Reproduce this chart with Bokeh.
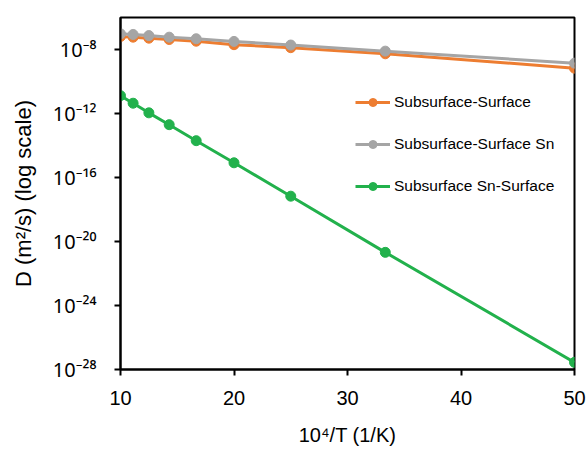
from bokeh.plotting import figure
from bokeh.models import Legend, LegendItem, FixedTicker, CustomJSTickFormatter
from bokeh.embed import file_html
from bokeh.resources import INLINE

# x = 10^4 / T (1/K)
x_vals = [10, 11.11, 12.5, 14.29, 16.67, 20, 25, 33.33, 50]

# D (m^2/s)
d_sub_surf = [6.5e-8, 5.9e-8, 5.1e-8, 4.2e-8, 3.3e-8, 2.0e-8, 1.3e-8, 5.4e-9, 6.8e-10]
d_sub_surf_sn = [9.5e-8, 8.7e-8, 7.4e-8, 5.9e-8, 4.7e-8, 3.2e-8, 1.9e-8, 7.9e-9, 1.4e-9]
d_subsn_surf = [1.3e-11, 4.4e-12, 1.1e-12, 2.0e-13, 2.0e-14, 8.3e-16, 6.8e-18, 2.1e-21, 2.8e-28]

series_names = ["Subsurface-Surface", "Subsurface-Surface Sn", "Subsurface Sn-Surface"]
series_colors = ["#ED7D31", "#A5A5A5", "#22B14C"]

x_ticks = [10, 20, 30, 40, 50]
y_tick_exps = [-8, -12, -16, -20, -24, -28]
y_tick_labels = ["10⁻⁸", "10⁻¹²", "10⁻¹⁶", "10⁻²⁰", "10⁻²⁴", "10⁻²⁸"]

FONT = "Liberation Sans"

p = figure(width=586, height=456, y_axis_type="log",
           x_range=(10, 50), y_range=(1e-28, 1e-6),
           output_backend="svg", toolbar_location=None,
           min_border_left=120, min_border_right=12,
           min_border_top=17, min_border_bottom=87)

p.grid.visible = False
p.outline_line_color = "black"
p.outline_line_width = 2
p.background_fill_color = "white"
p.border_fill_color = "white"

items = []
for ys, name, col in zip([d_sub_surf, d_sub_surf_sn, d_subsn_surf], series_names, series_colors):
    r1 = p.line(x_vals, ys, line_color=col, line_width=3)
    r2 = p.scatter(x_vals, ys, size=10, fill_color=col, line_color=col)
    items.append(LegendItem(label=name, renderers=[r1, r2]))

legend = Legend(items=items, location=(235, 173), border_line_alpha=0,
                background_fill_alpha=0, padding=0, margin=0, spacing=22,
                glyph_width=35, glyph_height=20, label_height=20, label_standoff=4,
                label_text_font=FONT, label_text_font_size="15.5px",
                label_text_color="black")
p.add_layout(legend)

for ax in (p.xaxis[0], p.yaxis[0]):
    ax.axis_line_width = 2
    ax.axis_line_color = "black"
    ax.major_tick_line_width = 2
    ax.major_tick_line_color = "black"
    ax.major_tick_out = 6
    ax.major_tick_in = 0
    ax.minor_tick_out = 0
    ax.minor_tick_in = 0
    ax.major_label_text_font = FONT
    ax.major_label_text_font_size = "20px"
    ax.major_label_text_color = "black"
    ax.axis_label_text_font = FONT
    ax.axis_label_text_font_style = "normal"
    ax.axis_label_text_color = "black"

p.xaxis.ticker = FixedTicker(ticks=x_ticks)
p.xaxis.major_label_standoff = 15
p.xaxis.axis_label = "10⁴/T (1/K)"
p.xaxis.axis_label_text_font_size = "20px"
p.xaxis.axis_label_standoff = 16

p.yaxis.ticker = FixedTicker(ticks=[10.0 ** e for e in y_tick_exps])
p.yaxis.formatter = CustomJSTickFormatter(
    args=dict(exps=y_tick_exps, labels=y_tick_labels),
    code="const i = exps.indexOf(Math.round(Math.log10(tick))); return i >= 0 ? labels[i] : '';")
p.yaxis.major_label_standoff = 18
p.yaxis.major_label_text_font = "Noto Sans"
p.yaxis.major_label_text_font_size = "20px"
p.yaxis.axis_label = "D (m²/s) (log scale)"
p.yaxis.axis_label_text_font_size = "22px"
p.yaxis.axis_label_standoff = 14

open("out.html", "w").write(file_html(p, INLINE))
